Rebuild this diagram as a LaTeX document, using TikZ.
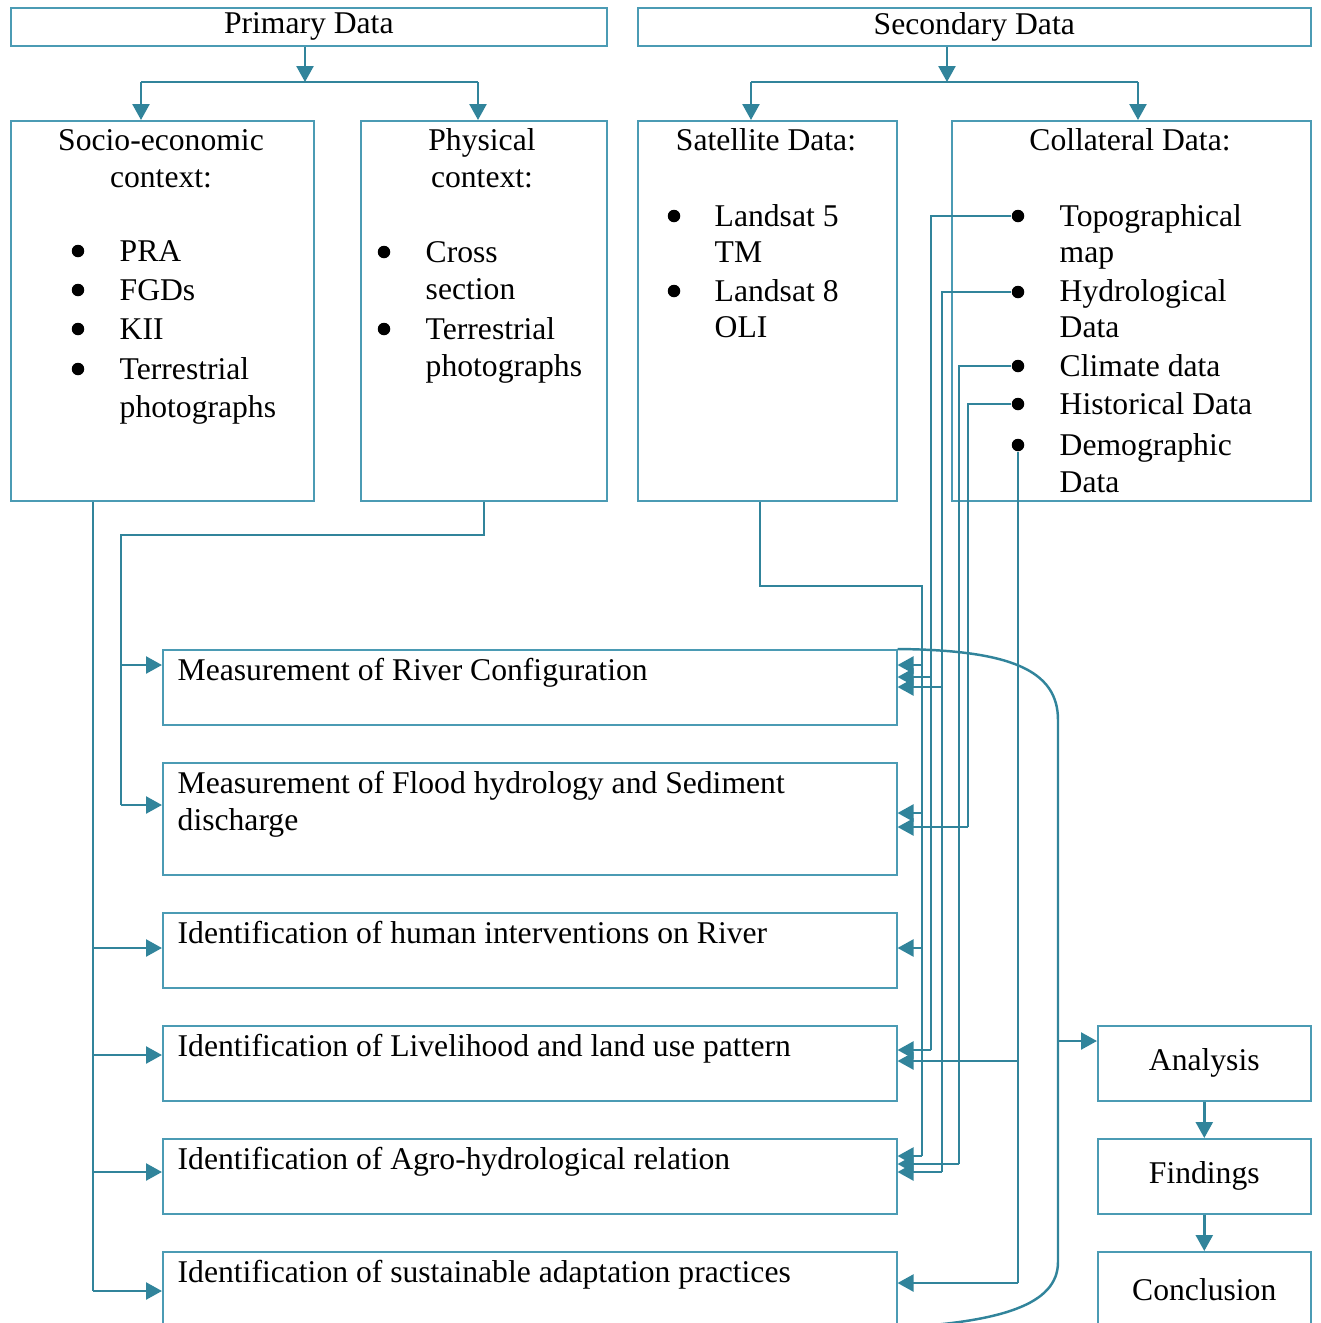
\documentclass[tikz,border=0pt]{standalone}
\usepackage{fontspec}
\setmainfont{Liberation Serif}
\usetikzlibrary{arrows.meta}
\definecolor{linec}{RGB}{49,132,155}
\definecolor{boxc}{RGB}{75,155,180}

\begin{document}
\begin{tikzpicture}[x=0.1mm,y=-0.1mm,
  every node/.style={font=\fontsize{9pt}{11pt}\selectfont},
  box/.style={draw=boxc,line width=0.45pt,inner sep=0pt,anchor=north west},
  wire/.style={draw=linec,line width=0.7pt},
  arr/.style={wire,-{Triangle[length=1.6mm,width=1.7mm]}},
  dot/.style={circle,fill=black,inner sep=0pt,minimum size=1.25mm},
  txt/.style={anchor=base west,inner sep=0pt},
  ctxt/.style={anchor=base,inner sep=0pt}]
\useasboundingbox (0,0) rectangle (1320,1323);
\clip (0,0) rectangle (1320,1323);
\node[box,minimum width=59.6mm,minimum height=3.8mm] (prim) at (10,7) {Primary Data};
\node[box,minimum width=67.3mm,minimum height=3.8mm] (sec) at (637,7) {Secondary Data};
\node[box,minimum width=30.3mm,minimum height=38mm] (socio) at (10,120) {};
\node[box,minimum width=24.6mm,minimum height=38mm] (phys) at (360,120) {};
\node[box,minimum width=25.9mm,minimum height=38mm] (sat) at (637,120) {};
\node[box,minimum width=35.9mm,minimum height=38mm] (coll) at (951,120) {};
\node[box,minimum width=73.4mm,minimum height=7.5mm] (river) at (162,649) {};
\node[box,minimum width=73.4mm,minimum height=11.2mm] (flood) at (162,762) {};
\node[box,minimum width=73.4mm,minimum height=7.5mm] (human) at (162,912) {};
\node[box,minimum width=73.4mm,minimum height=7.5mm] (live) at (162,1025) {};
\node[box,minimum width=73.4mm,minimum height=7.5mm] (agro) at (162,1138) {};
\node[box,minimum width=73.4mm,minimum height=7.5mm] (sust) at (162,1251) {};
\node[box,minimum width=21.3mm,minimum height=7.5mm] (ana) at (1097,1025) {Analysis};
\node[box,minimum width=21.3mm,minimum height=7.5mm] (find) at (1097,1138) {Findings};
\node[box,minimum width=21.3mm,minimum height=7.5mm] (concl) at (1097,1251) {Conclusion};
\node[ctxt] (socT1) at (161,150) {Socio-economic};
\node[ctxt] (socT2) at (161,187) {context:};
\node[dot] (socB1) at (78,251) {};
\node[txt] (socI1) at (119,261) {PRA};
\node[dot] (socB2) at (78,290) {};
\node[txt] (socI2) at (119,300) {FGDs};
\node[dot] (socB3) at (78,329) {};
\node[txt] (socI3) at (119,339) {KII};
\node[dot] (socB4) at (78,369) {};
\node[txt] (socI4) at (119,379) {Terrestrial};
\node[txt] (socI5) at (119,417) {photographs};
\node[ctxt] (phyT1) at (482,150) {Physical};
\node[ctxt] (phyT2) at (482,187) {context:};
\node[dot] (phyB1) at (384,252) {};
\node[txt] (phyI1) at (425,262) {Cross};
\node[txt] (phyI2) at (425,299) {section};
\node[dot] (phyB2) at (384,329) {};
\node[txt] (phyI3) at (425,339) {Terrestrial};
\node[txt] (phyI4) at (425,376) {photographs};
\node[ctxt] (satT) at (766,150) {Satellite Data:};
\node[dot] (satB1) at (674,216) {};
\node[txt] (satI1) at (714,226) {Landsat 5};
\node[txt] (satI2) at (714,262) {TM};
\node[dot] (satB2) at (674,291) {};
\node[txt] (satI3) at (714,301) {Landsat 8};
\node[txt] (satI4) at (714,337) {OLI};
\node[ctxt] (colT) at (1130,150) {Collateral Data:};
\node[dot] (topo) at (1018,216) {};
\node[txt] (colI1) at (1059,226) {Topographical};
\node[txt] (colI2) at (1059,262) {map};
\node[dot] (hyd) at (1018,292) {};
\node[txt] (colI3) at (1059,301) {Hydrological};
\node[txt] (colI4) at (1059,337) {Data};
\node[dot] (clim) at (1018,366) {};
\node[txt] (colI5) at (1059,376) {Climate data};
\node[dot] (hist) at (1018,404) {};
\node[txt] (colI6) at (1059,414) {Historical Data};
\node[dot] (demo) at (1018,445) {};
\node[txt] (colI7) at (1059,455) {Demographic};
\node[txt] (colI8) at (1059,492) {Data};
\node[txt] (riverT) at (177,680) {Measurement of River Configuration};
\node[txt] (floodT1) at (177,793) {Measurement of Flood hydrology and Sediment};
\node[txt] (floodT2) at (177,830) {discharge};
\node[txt] (humanT) at (177,943) {Identification of human interventions on River};
\node[txt] (liveT) at (177,1056) {Identification of Livelihood and land use pattern};
\node[txt] (agroT) at (177,1169) {Identification of Agro-hydrological relation};
\node[txt] (sustT) at (177,1282) {Identification of sustainable adaptation practices};
\coordinate (pj) at (305,82);
\coordinate (pl) at (141,82);
\coordinate (pr) at (478,82);
\draw[arr] (pj |- prim.south) -- (pj);
\draw[wire] (pl) -- (pr);
\draw[arr] (pl) -- (pl |- socio.north);
\draw[arr] (pr) -- (pr |- phys.north);
\coordinate (sj) at (947,82);
\coordinate (sl) at (751,82);
\coordinate (sr) at (1138,82);
\draw[arr] (sj |- sec.south) -- (sj);
\draw[wire] (sl) -- (sr);
\draw[arr] (sl) -- (sl |- sat.north);
\draw[arr] (sr) -- (sr |- coll.north);
\coordinate (o1) at (93,948);
\coordinate (o2) at (93,1055);
\coordinate (o3) at (93,1172);
\coordinate (o4) at (93,1291);
\draw[wire] (o4 |- socio.south) -- (o4);
\draw[arr] (o1) -- (o1 -| human.west);
\draw[arr] (o2) -- (o2 -| live.west);
\draw[arr] (o3) -- (o3 -| agro.west);
\draw[arr] (o4) -- (o4 -| sust.west);
\coordinate (pv) at (484,535);
\coordinate (pa) at (121,665);
\coordinate (pb) at (121,805);
\draw[wire] (pv |- phys.south) -- (pv) -| (pb);
\draw[arr] (pa) -- (pa -| river.west);
\draw[arr] (pb) -- (pb -| flood.west);
\coordinate (sv) at (760,586);
\coordinate (s1) at (922,665);
\coordinate (s2) at (922,813);
\coordinate (s3) at (922,948);
\coordinate (s4) at (922,1156);
\draw[wire] (sv |- sat.south) -- (sv) -| (s4);
\draw[arr] (s1) -- (s1 -| river.east);
\draw[arr] (s2) -- (s2 -| flood.east);
\draw[arr] (s3) -- (s3 -| human.east);
\draw[arr] (s4) -- (s4 -| agro.east);
\coordinate (t1) at (931,677);
\coordinate (t2) at (931,1050);
\draw[wire] (topo) -| (t2);
\draw[arr] (t1) -- (t1 -| river.east);
\draw[arr] (t2) -- (t2 -| live.east);
\coordinate (h1) at (942,687);
\coordinate (h2) at (942,1172);
\draw[wire] (hyd) -| (h2);
\draw[arr] (h1) -- (h1 -| river.east);
\draw[arr] (h2) -- (h2 -| agro.east);
\coordinate (c1) at (959,1164);
\draw[wire] (clim) -| (c1);
\draw[arr] (c1) -- (c1 -| agro.east);
\coordinate (k1) at (968,827);
\draw[wire] (hist) -| (k1);
\draw[arr] (k1) -- (k1 -| flood.east);
\coordinate (d1) at (1018,1061);
\coordinate (d2) at (1018,1283);
\draw[wire] (demo) -- (d2);
\draw[arr] (d1) -- (d1 -| live.east);
\draw[arr] (d2) -- (d2 -| sust.east);
\draw[wire] (river.north east) .. controls (1010,650) and (1058,670) .. (1058,720) -- (1058,1262) .. controls (1058,1305) and (1000,1322) .. (sust.south east);
\coordinate (a0) at (1058,1041);
\draw[arr] (a0) -- (a0 -| ana.west);
\draw[arr] (ana) -- (find);
\draw[arr] (find) -- (concl);
\end{tikzpicture}
\end{document}
